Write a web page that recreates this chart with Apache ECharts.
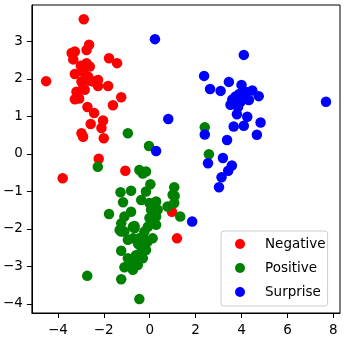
<!DOCTYPE html>
<html>
<head>
<meta charset="utf-8">
<script src="https://cdn.jsdelivr.net/npm/echarts@6/dist/echarts.min.js"></script>
<style>
  html, body { margin: 0; padding: 0; background: #fff; }
  #chart { width: 344px; height: 339px; }
</style>
</head>
<body>
<div id="chart"></div>
<script>
// data
const seriesNames = ['Negative', 'Positive', 'Surprise']
const seriesColors = ['#ff0000', '#008000', '#0000ff']

const negative = [
  [-2.87, 3.59], [-4.51, 1.94], [-2.64, 2.91], [-2.75, 2.77], [-3.40, 2.69], [-3.26, 2.73],
  [-3.33, 2.52], [-1.77, 2.55], [-1.42, 2.42], [-2.75, 2.42], [-2.61, 2.33], [-3.26, 2.13],
  [-2.90, 2.19], [-2.97, 1.93], [-2.68, 2.06], [-2.25, 1.97], [-2.46, 1.93], [-2.25, 1.81],
  [-1.81, 1.81], [-3.19, 1.66], [-2.83, 1.71], [-3.26, 1.46], [-3.07, 1.48], [-1.24, 1.51],
  [-1.60, 1.30], [-2.71, 1.25], [-2.42, 1.09], [-2.03, 0.89], [-2.57, 0.80], [-2.10, 0.69],
  [-2.97, 0.55], [-2.90, 0.46], [-2.00, 0.42], [-2.22, -0.13], [-1.06, -0.45], [-3.79, -0.65],
  [0.97, -1.54], [1.19, -2.25], [-2.80, 2.00], [-2.60, 1.95], [-2.90, 1.75], [-3.00, 2.35],
  [-2.85, 2.30]
]

const positive = [
  [-0.95, 0.55], [-0.03, 0.21], [-2.26, -0.34], [-2.72, -3.25], [-0.45, -3.87], [-1.24, -3.34],
  [-1.77, -1.60], [-1.27, -1.02], [-1.16, -1.29], [-0.81, -0.98], [-1.24, -2.58], [-1.10, -3.02],
  [-0.73, -3.09], [-1.24, -2.07], [-0.73, -1.94], [-0.95, -2.29], [-0.45, -0.43], [-0.16, -0.47],
  [-0.30, -0.52], [0.03, -0.81], [-0.16, -1.00], [1.07, -0.89], [1.00, -1.09], [-0.37, -1.23],
  [0.28, -1.27], [-0.01, -1.31], [1.07, -1.31], [0.78, -1.40], [0.06, -1.49], [0.35, -1.49],
  [-0.81, -1.54], [-1.10, -1.67], [1.33, -1.67], [-0.01, -1.71], [0.28, -1.67], [-1.24, -1.85],
  [-0.66, -1.92], [-0.08, -1.94], [0.28, -1.89], [1.09, -1.12], [-0.52, -2.96], [-0.30, -2.78],
  [-0.37, -2.61], [-0.23, -2.43], [-0.45, -2.25], [-0.73, -2.25], [0.13, -2.25], [-1.10, -2.07],
  [-1.31, -2.03], [-0.66, -1.98], [-0.23, -2.07], [-0.16, -2.56], [-0.66, -2.87], [-0.95, -2.78],
  [2.40, 0.71], [2.58, -0.01], [-0.50, -2.40], [-0.60, -2.70], [-0.85, -3.00], [-0.30, -2.20],
  [-0.10, -2.35]
]

const surprise = [
  [0.23, 3.06], [0.81, 0.93], [0.28, 0.08], [1.85, -1.80], [4.10, 2.64], [2.37, 2.08],
  [2.63, 1.73], [3.09, 1.68], [3.45, 1.92], [4.00, 1.84], [4.47, 1.69], [4.75, 1.54],
  [7.68, 1.39], [3.74, 1.53], [3.52, 1.31], [3.96, 1.39], [4.32, 1.44], [3.80, 1.06],
  [4.25, 0.99], [4.83, 0.84], [3.66, 0.73], [4.10, 0.75], [4.67, 0.51], [3.37, 0.37],
  [2.40, 0.52], [2.54, -0.25], [3.19, -0.11], [3.58, -0.31], [3.42, -0.45], [3.13, -0.62],
  [3.02, -0.89], [3.90, 1.60], [4.10, 1.50], [3.60, 1.45], [4.20, 1.65], [3.85, 1.25]
]

const xTicks = [-4, -2, 0, 2, 4, 6, 8]
const yTicks = [-4, -3, -2, -1, 0, 1, 2, 3]

const allData = [negative, positive, surprise]
const font = 'DejaVu Sans'
const minusFmt = v => String(v).replace('-', '\u2212')

const chart = echarts.init(document.getElementById('chart'))
chart.setOption({
  animation: false,
  grid: {
    left: 30,
    right: 4,
    top: 5,
    bottom: 26,
    show: true,
    borderColor: '#000',
    borderWidth: 1,
  },
  xAxis: {
    type: 'value',
    min: -5.13,
    max: 8.29,
    splitLine: { show: false },
    axisLine: { show: true, onZero: false, lineStyle: { color: '#000' } },
    axisTick: { show: true, customValues: xTicks, length: 5, lineStyle: { color: '#000' } },
    axisLabel: {
      customValues: xTicks,
      formatter: minusFmt,
      margin: 10,
      color: '#000',
      fontFamily: font,
      fontSize: 13.5,
    },
  },
  yAxis: {
    type: 'value',
    min: -4.24,
    max: 3.97,
    splitLine: { show: false },
    axisLine: { show: true, onZero: false, lineStyle: { color: '#000' } },
    axisTick: { show: true, customValues: yTicks, length: 5, lineStyle: { color: '#000' } },
    axisLabel: {
      customValues: yTicks,
      formatter: minusFmt,
      margin: 9,
      color: '#000',
      fontFamily: font,
      fontSize: 13.5,
    },
  },
  legend: {
    orient: 'vertical',
    left: 221,
    top: 231,
    icon: 'circle',
    itemWidth: 20,
    itemHeight: 10,
    itemGap: 8,
    padding: [5, 2, 6, 14],
    borderColor: '#cccccc',
    borderWidth: 1,
    borderRadius: 3,
    backgroundColor: 'rgba(255,255,255,0.8)',
    data: seriesNames,
    textStyle: {
      color: '#000',
      fontFamily: font,
      fontSize: 13.5,
      lineHeight: 16,
      padding: [0, 0, 0, 10],
    },
  },
  series: seriesNames.map((name, i) => ({
    name: name,
    type: 'scatter',
    symbol: 'circle',
    symbolSize: 10.5,
    itemStyle: { color: seriesColors[i], opacity: 1 },
    data: allData[i],
  })),
})
</script>
</body>
</html>
